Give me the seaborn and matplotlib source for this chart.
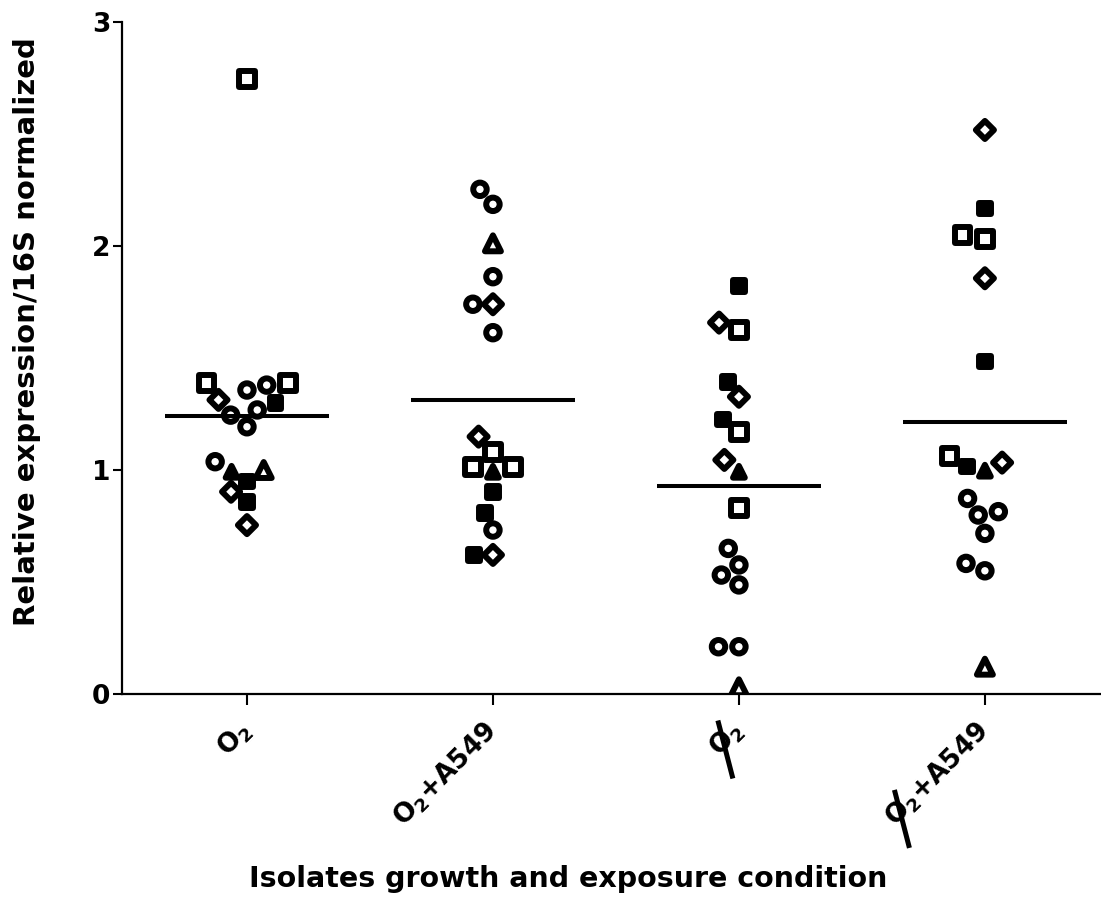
import numpy as np
import pandas as pd
import matplotlib
matplotlib.use("Agg")
import matplotlib.pyplot as plt
from matplotlib.markers import MarkerStyle
from matplotlib.lines import Line2D
from matplotlib.transforms import IdentityTransform
import seaborn as sns

# ---------------- data ----------------
conditions = ["O2", "O2+A549", "noO2", "noO2+A549"]
tick_labels = ["O$_2$", "O$_2$+A549", "O$_2$", "O$_2$+A549"]
crossed = [False, False, True, True]

# isolate symbol codes: c=open circle, s=open square, S=filled square,
# d=open diamond, t=open triangle, T=filled triangle
vals_o2 = [2.745, 1.388, 1.388, 1.298, 1.313, 1.357, 1.379, 1.245, 1.268,
           1.193, 1.000, 1.037, 0.992, 0.948, 0.903, 0.858, 0.754]
syms_o2 = ["s", "s", "s", "S", "d", "c", "c", "c", "c",
           "c", "t", "c", "T", "S", "d", "S", "d"]

vals_o2_a549 = [2.253, 2.186, 2.012, 1.863, 1.740, 1.740, 1.613, 1.149, 1.082,
                1.015, 1.015, 0.992, 0.903, 0.807, 0.732, 0.621, 0.621]
syms_o2_a549 = ["c", "c", "t", "c", "c", "d", "c", "d", "s",
                "s", "s", "T", "S", "S", "c", "d", "S"]

vals_no_o2 = [1.821, 1.625, 1.658, 1.394, 1.327, 1.226, 1.171, 1.045, 0.992,
              0.829, 0.650, 0.576, 0.531, 0.487, 0.211, 0.211, 0.030]
syms_no_o2 = ["S", "s", "d", "S", "d", "S", "s", "d", "T",
              "s", "c", "c", "c", "c", "c", "c", "t"]

vals_no_o2_a549 = [2.518, 2.168, 2.049, 2.030, 1.856, 1.484, 1.033, 0.997, 1.015,
                   1.063, 0.873, 0.814, 0.799, 0.717, 0.583, 0.550, 0.122]
syms_no_o2_a549 = ["d", "S", "s", "s", "d", "S", "d", "T", "S",
                   "s", "c", "c", "c", "c", "c", "c", "t"]

y_ticks = [0, 1, 2, 3]

all_vals = [vals_o2, vals_o2_a549, vals_no_o2, vals_no_o2_a549]
all_syms = [syms_o2, syms_o2_a549, syms_no_o2, syms_no_o2_a549]
df = pd.DataFrame({
    "condition": np.repeat(conditions, [len(v) for v in all_vals]),
    "value": np.concatenate(all_vals),
    "symbol": np.concatenate(all_syms),
})

# marker styling: (matplotlib marker, filled, size pt^2)
spec = {
    "c": ("o", False, 94),
    "s": ("s", False, 130),
    "S": ("s", True, 70),
    "d": ("D", False, 85),
    "t": ("^", False, 132),
    "T": ("^", True, 72),
}
edge_lw = 4.3

# ---------------- style ----------------
sns.set_style("ticks")
plt.rcParams["font.family"] = ["DejaVu Sans"]
plt.rcParams["font.weight"] = "bold"
plt.rcParams["axes.labelweight"] = "bold"
plt.rcParams["mathtext.default"] = "regular"
plt.rcParams["text.color"] = "black"
plt.rcParams["axes.labelcolor"] = "black"
plt.rcParams["xtick.color"] = "black"
plt.rcParams["ytick.color"] = "black"

fig = plt.figure(figsize=(11.01, 9.02), dpi=100)
ax = fig.add_axes([122 / 1101, 208 / 902, (1101 - 122) / 1101, 672 / 902])

# ---------------- points ----------------
sns.swarmplot(data=df, x="condition", y="value", order=conditions,
              color="black", size=10, ax=ax)
colls = list(ax.collections)
for coll, cond in zip(colls, conditions):
    sub = df[df["condition"] == cond]
    paths, fcs, sizes = [], [], []
    for code in sub["symbol"]:
        m, filled, s = spec[code]
        ms = MarkerStyle(m)
        paths.append(ms.get_path().transformed(ms.get_transform()))
        fcs.append("black" if filled else "none")
        sizes.append(s)
    coll.set_paths(paths)
    coll.set_facecolors(fcs)
    coll.set_edgecolors("black")
    coll.set_sizes(sizes)
    coll.set_linewidths(edge_lw)
    coll.set_joinstyle("round")

# ---------------- mean lines ----------------
sns.pointplot(data=df, x="condition", y="value", order=conditions,
              estimator="mean", errorbar=None, color="black",
              markers="_", linestyles="none", markersize=118,
              markeredgewidth=2.9, ax=ax)

# ---------------- axes ----------------
ax.set_xlim(-0.508, 3.472)
ax.set_ylim(0, 3)
ax.set_yticks(y_ticks)
ax.set_yticklabels([str(t) for t in y_ticks])
ax.set_xticks(range(len(conditions)))
ax.set_xticklabels(tick_labels, rotation=45, ha="right", va="center",
                   rotation_mode="anchor")
sns.despine(ax=ax)
for side in ["left", "bottom"]:
    ax.spines[side].set_linewidth(1.6)
    ax.spines[side].set_color("black")
ax.tick_params(axis="both", direction="out", width=1.5, color="black",
               labelcolor="black", labelsize=19)
ax.tick_params(axis="x", length=8, pad=15.5)
ax.tick_params(axis="y", length=6.5, pad=2)

ax.set_ylabel("Relative expression/16S normalized", fontsize=21,
              fontweight="bold", color="black")
ax.yaxis.label.set_va("baseline")
ax.yaxis.set_label_coords((35 - 122) / 979, 0.540)
ax.set_xlabel("Isolates growth and exposure condition", fontsize=20.5,
              fontweight="bold", color="black")
ax.xaxis.label.set_va("baseline")
ax.xaxis.set_label_coords((568 - 122) / 979, (15 - 208) / 672)

# ---------------- slash through the O of "no O2" labels ----------------
fig.canvas.draw()
renderer = fig.canvas.get_renderer()
labels = ax.get_xticklabels()
for i, is_crossed in enumerate(crossed):
    if not is_crossed:
        continue
    lab = labels[i]
    fp = lab.get_fontproperties()
    w, h, d = renderer.get_text_width_height_descent(lab.get_text(), fp, ismath=True)
    _, lp_h, lp_d = renderer.get_text_width_height_descent("lp", fp, ismath=False)
    h = max(h, lp_h)
    d = max(d, lp_d)
    ow, oh, od = renderer.get_text_width_height_descent("O", fp, ismath=False)
    cx = ow / 2 - w
    cy = d + (oh / 2 - od) - h / 2
    ang = np.deg2rad(lab.get_rotation())
    ox = cx * np.cos(ang) - cy * np.sin(ang)
    oy = cx * np.sin(ang) + cy * np.cos(ang)
    x0, y0 = lab.get_transform().transform(lab.get_position())
    ocx, ocy = x0 + ox, y0 + oy
    fig.add_artist(Line2D([ocx - 2, ocx + 13], [ocy + 22, ocy - 36],
                          transform=IdentityTransform(), color="black",
                          linewidth=3.6, solid_capstyle="butt"))

fig.savefig("out.png", dpi=100)
